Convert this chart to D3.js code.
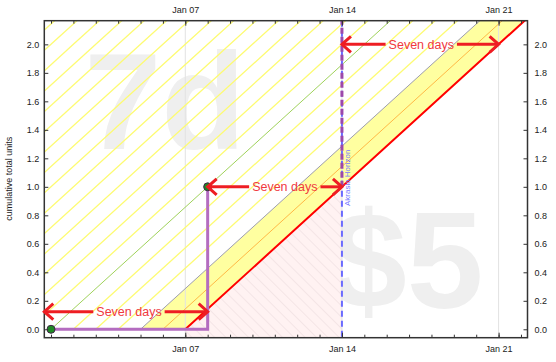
<!DOCTYPE html>
<html>
<head>
<meta charset="utf-8">
<script src="https://cdn.jsdelivr.net/npm/d3@7"></script>
<style>
  body { margin: 0; background: #fff; }
  svg { display: block; }
  text { font-family: "Liberation Sans", Arial, sans-serif; }
</style>
</head>
<body>
<svg id="chart"></svg>
<script>
(function () {
  var WIDTH = 556
  var HEIGHT = 362
  var margin = { top: 20.7, right: 28.5, bottom: 24.3, left: 44.3 }

  // Data
  var xDomain = ['2023-12-31T16:48', '2024-01-22T07:00']
  var yDomain = [-0.059, 2.166]
  var yTicks = [0, 0.2, 0.4, 0.6, 0.8, 1.0, 1.2, 1.4, 1.6, 1.8, 2.0]
  var xLabelDates = ['2024-01-07', '2024-01-14', '2024-01-21']
  var pointDates = ['2024-01-01', '2024-01-08']
  var pointValues = [0, 1]
  var stepDates = ['2024-01-01', '2024-01-08', '2024-01-08']
  var stepValues = [0, 0, 1]
  var roadDates = ['2024-01-07', '2024-01-21', '2024-01-28']
  var roadValues = [0, 2, 3]
  var guideOffsets = [1, 2, 3, 4, 5, 6, 7, 8, 9, 10, 11, 12, 13, 14, 15, 16, 17, 18, 19, 20, 21, 22]
  var horizonDate = '2024-01-14'
  var horizonLabel = 'Akrasia Horizon'
  var capValue = 1.0
  var arrowFrom = ['2024-01-14', '2024-01-08', '2023-12-31T16:48']
  var arrowTo = ['2024-01-21', '2024-01-14', '2024-01-08']
  var arrowValues = [2.0, 1.0, 0.124]
  var arrowLabel = 'Seven days'
  var watermarks = ['7d', '$5']
  var yTitle = 'cumulative total units'

  var parse = function (s) { return s.length > 10 ? d3.utcParse('%Y-%m-%dT%H:%M')(s) : d3.utcParse('%Y-%m-%d')(s) }
  var DAY = 864e5

  var w = WIDTH - margin.left - margin.right
  var h = HEIGHT - margin.top - margin.bottom

  var x = d3.scaleTime().domain(xDomain.map(parse)).range([0, w])
  var y = d3.scaleLinear().domain(yDomain).range([h, 0])
  var road = d3.scaleTime().domain(roadDates.map(parse)).range(roadValues)

  var svg = d3.select('#chart').attr('width', WIDTH).attr('height', HEIGHT)
  var defs = svg.append('defs')
  defs.append('clipPath').attr('id', 'plot-clip')
    .append('rect').attr('width', w).attr('height', h)
  var pat = defs.append('pattern').attr('id', 'pink-hatch')
    .attr('patternUnits', 'userSpaceOnUse').attr('width', 8).attr('height', 8)
    .attr('patternTransform', 'rotate(-45)')
  pat.append('rect').attr('width', 8).attr('height', 8).attr('fill', '#fff2f2')
  pat.append('line').attr('x1', 0).attr('y1', 0).attr('x2', 0).attr('y2', 8)
    .attr('stroke', '#ead9da').attr('stroke-width', 1)

  var g = svg.append('g').attr('transform', 'translate(' + margin.left + ',' + margin.top + ')')
  var plot = g.append('g').attr('clip-path', 'url(#plot-clip)')

  var line = d3.line().x(function (d) { return x(d[0]) }).y(function (d) { return y(d[1]) })
  function shifted(days) {
    return roadDates.map(function (s, i) {
      return [new Date(parse(s).getTime() - days * DAY), roadValues[i]]
    })
  }

  // watermarks, centred in quadrants
  var fs = 138
  plot.selectAll('text.wm').data(watermarks).enter().append('text')
    .attr('class', 'wm')
    .attr('x', function (d, i) { return i ? w * 3 / 4 : w / 4 })
    .attr('y', function (d, i) { return (i ? h * 3 / 4 : h / 4) + fs * 0.358 })
    .attr('text-anchor', 'middle')
    .attr('font-size', fs).attr('font-weight', 'bold')
    .attr('fill', '#efefef')
    .text(function (d) { return d })

  // pink region below road, up to the horizon
  var hz = parse(horizonDate)
  var pinkPts = [[parse(roadDates[0]), roadValues[0]], [hz, road(hz)], [hz, yDomain[0]], [parse(roadDates[0]), yDomain[0]]]
  plot.append('path').attr('d', line(pinkPts) + 'Z').attr('fill', 'url(#pink-hatch)')

  // yellow band between 2-day line and road
  var band = shifted(2).concat(shifted(0).reverse())
  plot.append('path').attr('d', line(band) + 'Z').attr('fill', '#ffffa0')

  // grid lines
  plot.selectAll('line.grid').data(xLabelDates).enter().append('line')
    .attr('class', 'grid')
    .attr('x1', function (d) { return x(parse(d)) }).attr('x2', function (d) { return x(parse(d)) })
    .attr('y1', 0).attr('y2', h)
    .attr('stroke', '#e2e2e2').attr('stroke-width', 1)

  // guidelines
  var guideColor = function (k) {
    if (k === 1) return '#ffb845'
    if (k === 2) return '#9d9db0'
    if (k === 6) return '#9fd15a'
    return '#fdfb73'
  }
  plot.selectAll('path.guide').data(guideOffsets).enter().append('path')
    .attr('class', 'guide')
    .attr('d', function (k) { return line(shifted(k)) })
    .attr('fill', 'none')
    .attr('stroke', guideColor)
    .attr('stroke-width', function (k) { return (k === 1 || k === 2 || k === 6) ? 1 : 1.3 })

  // bright red line
  plot.append('path').attr('d', line(shifted(0)))
    .attr('fill', 'none').attr('stroke', '#ff0000').attr('stroke-width', 2)

  // akrasia horizon
  plot.append('line')
    .attr('x1', x(hz)).attr('x2', x(hz)).attr('y1', 0).attr('y2', h)
    .attr('stroke', '#6b6bff').attr('stroke-width', 2).attr('stroke-dasharray', '6,4')
  plot.append('text')
    .attr('transform', 'translate(' + (x(hz) + 8.5) + ',' + (y(1.0) - 9) + ') rotate(-90)')
    .attr('text-anchor', 'middle').attr('font-size', 8).attr('fill', '#7777ff')
    .text(horizonLabel)
  plot.append('line')
    .attr('x1', x(hz)).attr('x2', x(hz)).attr('y1', y(capValue)).attr('y2', 0)
    .attr('stroke', '#9c48aa').attr('stroke-width', 3).attr('stroke-dasharray', '6,3')

  // purple step line + datapoints
  var steps = stepDates.map(function (s, i) { return [parse(s), stepValues[i]] })
  plot.append('path').attr('d', line(steps))
    .attr('fill', 'none').attr('stroke', '#b46cc0').attr('stroke-width', 3)
  plot.selectAll('circle.pt').data(pointDates).enter().append('circle')
    .attr('class', 'pt')
    .attr('cx', function (d) { return x(parse(d)) })
    .attr('cy', function (d, i) { return y(pointValues[i]) })
    .attr('r', 4)
    .attr('fill', '#1f8a24').attr('stroke', '#402848').attr('stroke-width', 1)

  // frame
  g.append('rect').attr('width', w).attr('height', h)
    .attr('fill', 'none').attr('stroke', '#333').attr('stroke-width', 1.5)

  // axes
  var fmt = d3.utcFormat('%b %d')
  var minor = x.ticks(d3.utcDay.every(1))
  function styleAxis(sel) {
    sel.select('.domain').remove()
    sel.selectAll('line').attr('stroke', '#333')
    sel.selectAll('text').attr('fill', '#222').attr('font-size', 9)
  }
  g.append('g').call(d3.axisTop(x).tickValues(minor).tickSize(-3).tickFormat('')).call(styleAxis)
  g.append('g').attr('transform', 'translate(0,' + h + ')')
    .call(d3.axisBottom(x).tickValues(minor).tickSize(-3).tickFormat('')).call(styleAxis)
  g.append('g').call(d3.axisTop(x).tickValues(xLabelDates.map(parse)).tickSize(-5).tickPadding(8).tickFormat(fmt)).call(styleAxis)
  g.append('g').attr('transform', 'translate(0,' + h + ')')
    .call(d3.axisBottom(x).tickValues(xLabelDates.map(parse)).tickSize(-5).tickPadding(7.5).tickFormat(fmt)).call(styleAxis)
  g.append('g').call(d3.axisLeft(y).tickValues(yTicks).tickSize(-4).tickPadding(5).tickFormat(d3.format('.1f'))).call(styleAxis)
  g.append('g').attr('transform', 'translate(' + w + ',0)')
    .call(d3.axisRight(y).tickValues(yTicks).tickSize(-4).tickPadding(7).tickFormat(d3.format('.1f'))).call(styleAxis)

  g.append('text')
    .attr('transform', 'translate(' + (-margin.left + 12) + ',' + (y(1.0) - 8) + ') rotate(-90)')
    .attr('text-anchor', 'middle').attr('font-size', 9).attr('fill', '#222')
    .text(yTitle)

  // "Seven days" arrows
  var RED = '#ee1d23'
  var arrows = g.selectAll('g.arrow').data(arrowValues).enter().append('g').attr('class', 'arrow')
  arrows.each(function (v, i) {
    var el = d3.select(this)
    var x0 = x(parse(arrowFrom[i]))
    var x1 = x(parse(arrowTo[i]))
    var yy = y(v)
    var t = el.append('text').attr('font-family', 'Lato, "Open Sans", sans-serif')
      .attr('font-size', 12.5).attr('fill', '#f0393e').attr('text-anchor', 'middle')
      .attr('y', yy + 4.5).text(arrowLabel)
    var tw = t.node().getComputedTextLength()
    var shift = i === 1 ? 10 : (i === 2 ? 3 : 1)
    var cx = (x0 + x1) / 2 + shift
    t.attr('x', cx)
    var segs = [[x0 + 1, cx - tw / 2 - 3], [cx + tw / 2 + 3, x1 - 1]]
    el.selectAll('line.seg').data(segs).enter().append('line')
      .attr('x1', function (d) { return d[0] }).attr('x2', function (d) { return d[1] })
      .attr('y1', yy).attr('y2', yy)
      .attr('stroke', RED).attr('stroke-width', 3)
    var heads = [[x0, 1], [x1, -1]]
    el.selectAll('path.head').data(heads).enter().append('path')
      .attr('d', function (d) {
        return 'M' + (d[0] + d[1] * 9) + ',' + (yy - 8) + 'L' + d[0] + ',' + yy + 'L' + (d[0] + d[1] * 9) + ',' + (yy + 8)
      })
      .attr('fill', 'none').attr('stroke', RED).attr('stroke-width', 3)
  })
})()
</script>
</body>
</html>
